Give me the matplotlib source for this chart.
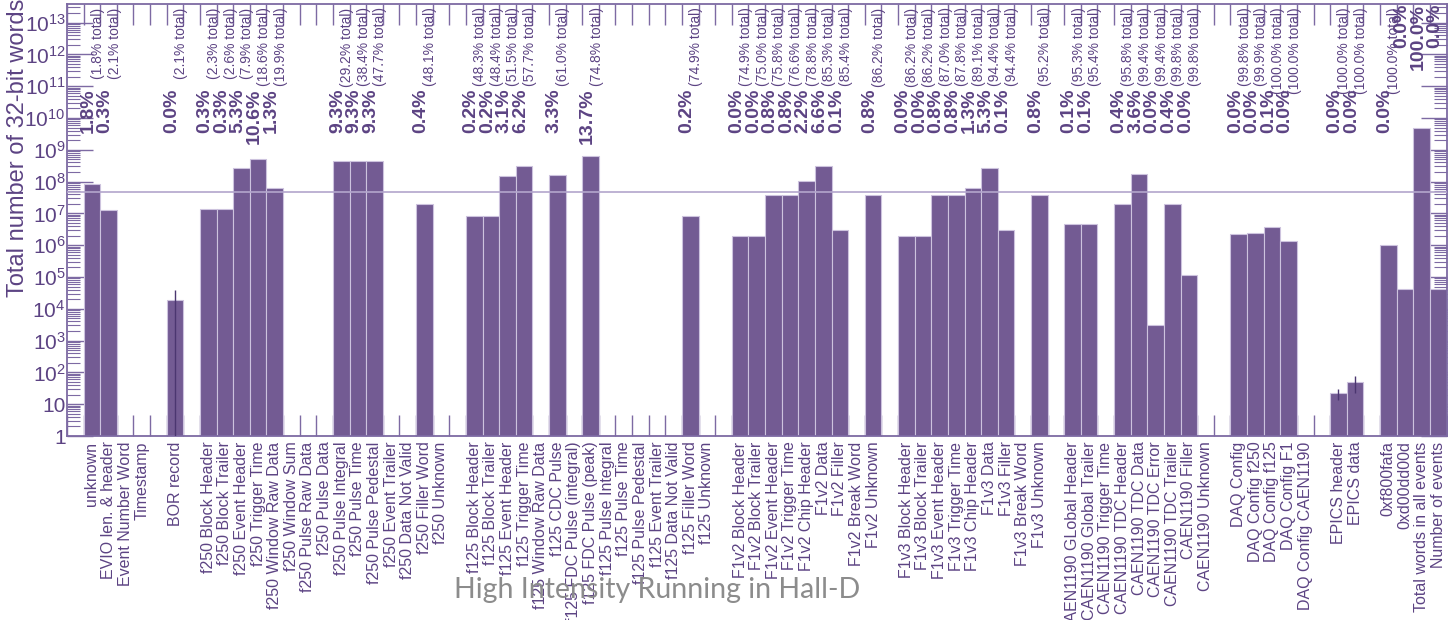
import numpy as np
import matplotlib
matplotlib.use("Agg")
import matplotlib.pyplot as plt
from matplotlib.ticker import FixedLocator, LogLocator, NullFormatter, FuncFormatter

# bin labels (bin 0 and the gaps between groups are empty)
labels = [
    "", "unknown", "EVIO len. & header", "Event Number Word", "Timestamp", "",
    "BOR record", "",
    "f250 Block Header", "f250 Block Trailer", "f250 Event Header", "f250 Trigger Time",
    "f250 Window Raw Data", "f250 Window Sum", "f250 Pulse Raw Data", "f250 Pulse Data",
    "f250 Pulse Integral", "f250 Pulse Time", "f250 Pulse Pedestal", "f250 Event Trailer",
    "f250 Data Not Valid", "f250 Filler Word", "f250 Unknown", "",
    "f125 Block Header", "f125 Block Trailer", "f125 Event Header", "f125 Trigger Time",
    "f125 Window Raw Data", "f125 CDC Pulse", "f125 FDC Pulse (integral)",
    "f125 FDC Pulse (peak)", "f125 Pulse Integral", "f125 Pulse Time", "f125 Pulse Pedestal",
    "f125 Event Trailer", "f125 Data Not Valid", "f125 Filler Word", "f125 Unknown", "",
    "F1v2 Block Header", "F1v2 Block Trailer", "F1v2 Event Header", "F1v2 Trigger Time",
    "F1v2 Chip Header", "F1v2 Data", "F1v2 Filler", "F1v2 Break Word", "F1v2 Unknown", "",
    "F1v3 Block Header", "F1v3 Block Trailer", "F1v3 Event Header", "F1v3 Trigger Time",
    "F1v3 Chip Header", "F1v3 Data", "F1v3 Filler", "F1v3 Break Word", "F1v3 Unknown", "",
    "CAEN1190 GLobal Header", "CAEN1190 Global Trailer", "CAEN1190 Trigger Time",
    "CAEN1190 TDC Header", "CAEN1190 TDC Data", "CAEN1190 TDC Error", "CAEN1190 TDC Trailer",
    "CAEN1190 Filler", "CAEN1190 Unknown", "",
    "DAQ Config", "DAQ Config f250", "DAQ Config f125", "DAQ Config F1", "DAQ Config CAEN1190", "",
    "EPICS header", "EPICS data", "",
    "0xf800fafa", "0xd00dd00d", "Total words in all events", "Number of events",
]

# words per bin
counts = [
    0, 8.7e7, 1.3e7, 0, 0, 0,
    1.9e4, 0,
    1.4e7, 1.4e7, 2.6e8, 5.1e8, 6.3e7, 0, 0, 0, 4.5e8, 4.5e8, 4.5e8, 0, 0, 1.95e7, 0, 0,
    8.0e6, 8.0e6, 1.5e8, 3.0e8, 0, 1.6e8, 0, 6.6e8, 0, 0, 0, 0, 0, 8.0e6, 0, 0,
    1.9e6, 1.9e6, 3.9e7, 3.9e7, 1.07e8, 3.2e8, 3.0e6, 0, 3.9e7, 0,
    1.9e6, 1.9e6, 3.9e7, 3.9e7, 6.3e7, 2.6e8, 3.0e6, 0, 3.9e7, 0,
    4.8e6, 4.8e6, 0, 1.95e7, 1.75e8, 3.1e3, 1.95e7, 1.15e5, 0, 0,
    2.2e6, 2.4e6, 3.7e6, 1.35e6, 0, 0,
    22, 50, 0,
    1.0e6, 4.2e4, 4.8e9, 4.2e4,
]

# percent labels for the filled bins, in bin order
pct_text = [1.8, 0.3, 0.0, 0.3, 0.3, 5.3, 10.6, 1.3, 9.3, 9.3, 9.3, 0.4,
            0.2, 0.2, 3.1, 6.2, 3.3, 13.7, 0.2,
            0.0, 0.0, 0.8, 0.8, 2.2, 6.6, 0.1, 0.8,
            0.0, 0.0, 0.8, 0.8, 1.3, 5.3, 0.1, 0.8,
            0.1, 0.1, 0.4, 3.6, 0.0, 0.4, 0.0,
            0.0, 0.0, 0.1, 0.0,
            0.0, 0.0,
            0.0, 0.0, 100.0, 0.0]
cum_text = [1.8, 2.1, 2.1, 2.3, 2.6, 7.9, 18.6, 19.9, 29.2, 38.4, 47.7, 48.1,
            48.3, 48.4, 51.5, 57.7, 61.0, 74.8, 74.9,
            74.9, 75.0, 75.8, 76.6, 78.8, 85.3, 85.4, 86.2,
            86.2, 86.2, 87.0, 87.8, 89.1, 94.4, 94.4, 95.2,
            95.3, 95.4, 95.8, 99.4, 99.4, 99.8, 99.8,
            99.8, 99.9, 100.0, 100.0,
            100.0, 100.0,
            100.0]

err_bins = [6, 76, 77]
err_vals = [2.0e4, 8, 27]

bar_col = "#735b93"
edge_col = "#cdc3de"
txt_col = "#5c4383"
frame_col = "#7d6aa3"

plt.rcParams["font.family"] = ["Liberation Sans", "DejaVu Sans"]

fig = plt.figure(figsize=(14.48, 6.2), dpi=100)
ax = fig.add_axes([67 / 1448, 1 - 436 / 620, 1379.5 / 1448, 432 / 620])
ax.set_yscale("log")

nbins = len(labels)
x = np.arange(nbins)
counts = np.array(counts, dtype=float)
filled = np.nonzero(counts)[0]

ax.bar(x[filled], counts[filled], width=1, align="edge", color=bar_col,
       edgecolor=edge_col, linewidth=0.8, zorder=2)
ax.errorbar(np.array(err_bins) + 0.5, counts[err_bins], yerr=err_vals, fmt="none",
            ecolor="#4b3670", elinewidth=1, capsize=0, zorder=3)

# 1% of all words
total_words = counts[labels.index("Total words in all events")]
ax.axhline(total_words / 100, color="#b3a6cc", lw=1.2, zorder=3)

ax.set_xlim(0, nbins)
ax.set_ylim(1, 3.85e13)

# x axis: labels at bin centres, tick marks at bin edges
ax.xaxis.set_major_locator(FixedLocator(x + 0.5))
ax.set_xticklabels(labels, rotation=90, fontsize=11.5, color=txt_col, va="top")
ax.xaxis.set_minor_locator(FixedLocator(np.arange(nbins + 1)))
ax.tick_params(axis="x", which="major", length=0, pad=4)
ax.tick_params(axis="x", which="minor", direction="in", length=15, width=1,
               color=frame_col, top=True, bottom=True)

# y axis
def fmt_pow(v, pos):
    n = int(round(np.log10(v)))
    if n == 0:
        return "1"
    if n == 1:
        return "10"
    return r"$\mathregular{10^{%d}}$" % n

ax.yaxis.set_major_locator(LogLocator(base=10, numticks=20))
ax.yaxis.set_major_formatter(FuncFormatter(fmt_pow))
ax.yaxis.set_minor_locator(LogLocator(base=10, subs=np.arange(2, 10), numticks=200))
ax.yaxis.set_minor_formatter(NullFormatter())
ax.tick_params(axis="y", which="major", direction="in", length=19, width=1,
               color=frame_col, left=True, right=True, labelsize=15,
               labelcolor=txt_col, pad=1)
ax.tick_params(axis="y", which="minor", direction="in", length=9.5, width=0.8,
               color=frame_col, left=True, right=True)

for s in ax.spines.values():
    s.set_color(frame_col)
    s.set_linewidth(1.3)

# percentage annotations
for k, b in enumerate(filled):
    at_top = k >= len(pct_text) - 3
    ax.text(b + 0.29, 1.0 if at_top else 0.805, "%.1f%%" % pct_text[k],
            transform=ax.get_xaxis_transform(), rotation=90, ha="center",
            va="top", fontsize=14, fontweight="bold", color=txt_col, zorder=4)
    if k < len(cum_text):
        ax.text(b + 0.86, 0.992, "(%.1f%% total)" % cum_text[k],
                transform=ax.get_xaxis_transform(), rotation=90, ha="center",
                va="top", fontsize=10, color=txt_col, zorder=4)

fig.text(18 / 1448, 1 - 297 / 620, "Total number of 32-bit words", rotation=90,
         ha="center", va="bottom", fontsize=17, color=txt_col)

fig.text(657 / 1448, 1 - 590 / 620, "High Intensity Running in Hall-D",
         ha="center", va="center", fontsize=20.5, color="#8c8c8c", family="Lato")

fig.savefig("out.png", dpi=100)
